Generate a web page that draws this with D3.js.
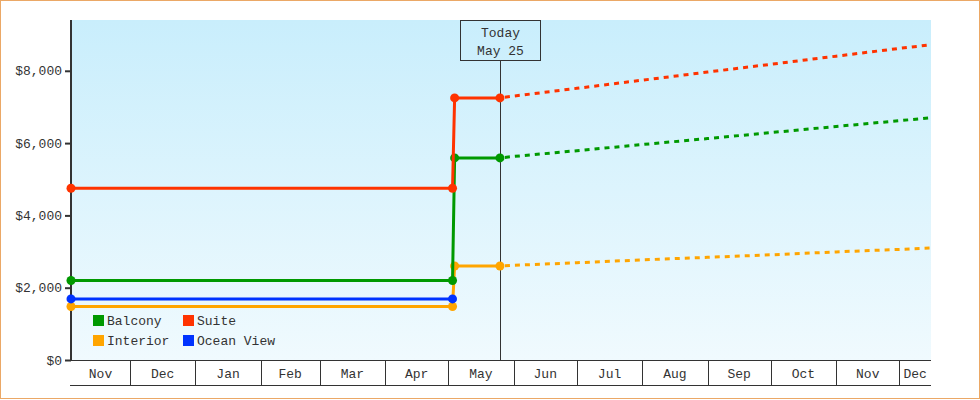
<!DOCTYPE html>
<html>
<head>
<meta charset="utf-8">
<script src="https://cdn.jsdelivr.net/npm/d3@7"></script>
<style>
  body { margin: 0; background: #fff; }
  svg { display: block; }
  text { font-family: "Liberation Mono", monospace; font-size: 13px; fill: #333; }
</style>
</head>
<body>
<div id="chart"></div>
<script>
// data
var seriesNames = ["Interior", "Balcony", "Suite", "Ocean View"];
var legendOrder = ["Balcony", "Suite", "Interior", "Ocean View"];
var colors = {"Balcony": "#009900", "Suite": "#ff3300", "Interior": "#ffa500", "Ocean View": "#0033ff"};

var pastDates = ["2022-11-03", "2023-05-03", "2023-05-04", "2023-05-25 12:00"];
var balconyPast = [2200, 2200, 5590, 5590];
var suitePast = [4750, 4750, 7250, 7250];
var interiorPast = [1480, 1480, 2600, 2600];
var oceanPast = [1690, 1690];

var forecastDates = ["2023-05-25 12:00", "2023-06-01", "2023-07-01", "2023-08-01", "2023-09-01",
                     "2023-10-01", "2023-11-01", "2023-12-01", "2023-12-16"];
var balconyForecast = [5590, 5630, 5790, 5960, 6125, 6290, 6460, 6620, 6700];
var suiteForecast = [7250, 7300, 7515, 7740, 7965, 8180, 8405, 8620, 8720];
var interiorForecast = [2600, 2620, 2690, 2770, 2840, 2910, 2990, 3060, 3100];

var yTicks = [0, 2000, 4000, 6000, 8000];
var todayDate = "2023-05-25 12:00";
var todayLabel = ["Today", "May 25"];
var domainDates = ["2022-11-03", "2023-12-16"];

var past = {"Balcony": balconyPast, "Suite": suitePast, "Interior": interiorPast, "Ocean View": oceanPast};
var forecast = {"Balcony": balconyForecast, "Suite": suiteForecast, "Interior": interiorForecast};

var W = 980, H = 400;
var margin = {top: 20, right: 49, bottom: 40, left: 71},
    width = W - margin.left - margin.right,
    height = H - margin.top - margin.bottom;

var parseDay = d3.timeParse("%Y-%m-%d"),
    parseHour = d3.timeParse("%Y-%m-%d %H:%M");
function parse(s) { return parseHour(s) || parseDay(s); }

var svg = d3.select("#chart").append("svg")
    .attr("width", W)
    .attr("height", H);

// outer frame
svg.append("rect")
    .attr("x", 0.5).attr("y", 0.5)
    .attr("width", W - 1).attr("height", H - 2)
    .attr("fill", "#fff")
    .attr("stroke", "#eba866");

var defs = svg.append("defs");
var grad = defs.append("linearGradient")
    .attr("id", "bg").attr("x1", 0).attr("y1", 0).attr("x2", 0).attr("y2", 1);
grad.append("stop").attr("offset", "0%").attr("stop-color", "#c9eefc");
grad.append("stop").attr("offset", "100%").attr("stop-color", "#f0fafe");

var g = svg.append("g")
    .attr("transform", "translate(" + margin.left + "," + margin.top + ")");

var x = d3.scaleTime()
    .domain(domainDates.map(parse))
    .range([0, width]);
var y = d3.scaleLinear()
    .domain([0, 9405])
    .range([height, 0]);

g.append("rect")
    .attr("width", width).attr("height", height)
    .attr("fill", "url(#bg)");

// y axis
var yAxis = g.append("g")
    .call(d3.axisLeft(y).tickValues(yTicks).tickSize(6).tickPadding(3)
      .tickFormat(function(d) { return "$" + d3.format(",")(d); }));
yAxis.select(".domain").remove();
yAxis.selectAll(".tick line").attr("stroke", "#333").attr("stroke-width", 2);
yAxis.selectAll("text").style("font-size", "13px").attr("fill", "#333")
    .style("font-family", "Liberation Mono, monospace");
g.append("line")
    .attr("x1", 0).attr("x2", 0).attr("y1", 0).attr("y2", height)
    .attr("stroke", "#333").attr("stroke-width", 2);

// month band axis
var bandH = 25;
var xa = g.append("g").attr("transform", "translate(0," + height + ")");
var monthStarts = d3.timeMonth.range(d3.timeMonth.floor(x.domain()[0]), x.domain()[1]);
xa.append("line")
    .attr("x1", -1).attr("x2", width).attr("y1", 0.5).attr("y2", 0.5)
    .attr("stroke", "#333");
xa.append("line")
    .attr("x1", -1).attr("x2", width).attr("y1", bandH + 0.5).attr("y2", bandH + 0.5)
    .attr("stroke", "#333");
xa.selectAll("line.sep")
    .data(monthStarts.filter(function(d) { return d > x.domain()[0]; }))
    .enter().append("line")
      .attr("class", "sep")
      .attr("x1", function(d) { return Math.round(x(d)) + 0.5; })
      .attr("x2", function(d) { return Math.round(x(d)) + 0.5; })
      .attr("y1", 0).attr("y2", bandH)
      .attr("stroke", "#333");
xa.selectAll("text.month")
    .data(monthStarts)
    .enter().append("text")
      .attr("class", "month")
      .attr("x", function(d) {
        var a = Math.max(x(d), 0);
        var b = Math.min(x(d3.timeMonth.offset(d, 1)), width);
        return (a + b) / 2;
      })
      .attr("y", 18)
      .attr("text-anchor", "middle")
      .text(d3.timeFormat("%b"));

// today marker
var tx = Math.round(x(parse(todayDate))) + 0.5;
g.append("line")
    .attr("x1", tx).attr("x2", tx).attr("y1", 40).attr("y2", height)
    .attr("stroke", "#333");
g.append("rect")
    .attr("x", tx - 40).attr("y", 0.5).attr("width", 80).attr("height", 40)
    .attr("fill", "none").attr("stroke", "#333");
g.selectAll("text.today")
    .data(todayLabel)
    .enter().append("text")
      .attr("class", "today")
      .attr("x", tx)
      .attr("y", function(d, i) { return 17 + i * 18; })
      .attr("text-anchor", "middle")
      .text(function(d) { return d; });

var line = d3.line()
    .x(function(d) { return x(d.date); })
    .y(function(d) { return y(d.value); });

// forecast (dashed)
seriesNames.forEach(function(name) {
  if (!forecast[name]) return;
  var pts = forecastDates.map(function(d, i) { return {date: parse(d), value: forecast[name][i]}; });
  g.append("path")
      .datum(pts)
      .attr("fill", "none")
      .attr("stroke", colors[name])
      .attr("stroke-width", 3)
      .attr("stroke-dasharray", "5,5")
      .attr("stroke-dashoffset", -5)
      .attr("d", line);
});

// history (solid + points)
seriesNames.forEach(function(name) {
  var pts = past[name].map(function(v, i) { return {date: parse(pastDates[i]), value: v}; });
  g.append("path")
      .datum(pts)
      .attr("fill", "none")
      .attr("stroke", colors[name])
      .attr("stroke-width", 3)
      .attr("d", line);
  g.selectAll(null)
      .data(pts)
      .enter().append("circle")
        .attr("cx", function(d) { return x(d.date); })
        .attr("cy", function(d) { return y(d.value); })
        .attr("r", 4.5)
        .attr("fill", colors[name]);
});

// legend
var legend = g.selectAll("g.legend")
    .data(legendOrder)
    .enter().append("g")
      .attr("class", "legend")
      .attr("transform", function(d, i) {
        return "translate(" + (22 + (i % 2) * 90) + "," + (295 + Math.floor(i / 2) * 20) + ")";
      });
legend.append("rect")
    .attr("width", 11).attr("height", 11)
    .attr("fill", function(d) { return colors[d]; });
legend.append("text")
    .attr("x", 14).attr("y", 10)
    .text(function(d) { return d; });
</script>
</body>
</html>
